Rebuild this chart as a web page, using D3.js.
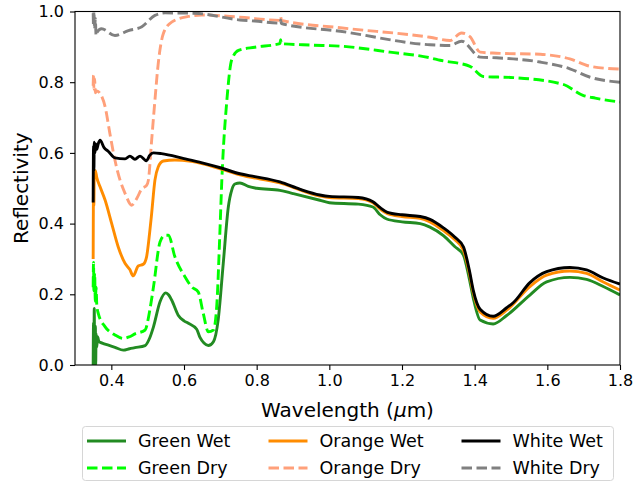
<!DOCTYPE html>
<html>
<head>
<meta charset="utf-8">
<script src="https://cdn.jsdelivr.net/npm/d3@7"></script>
<style>
  body { margin: 0; background: #fff; }
  text { font-family: "DejaVu Sans", sans-serif; fill: #000; }
</style>
</head>
<body>
<script>
// spectra, [wavelength um, reflectivity]
const greenWet = [[0.350,0.0],[0.351,0.12],[0.352,0.01],[0.353,0.16],[0.354,0.03],[0.356,0.11],[0.357,0.0],[0.358,0.09],[0.360,0.05],[0.362,0.08],[0.366,0.066],[0.375,0.062],[0.392,0.056],[0.41,0.050],[0.433,0.042],[0.45,0.046],[0.465,0.049],[0.493,0.055],[0.505,0.075],[0.516,0.108],[0.534,0.179],[0.55,0.204],[0.558,0.198],[0.566,0.184],[0.584,0.141],[0.60,0.125],[0.612,0.118],[0.635,0.101],[0.644,0.078],[0.655,0.062],[0.667,0.055],[0.681,0.066],[0.694,0.127],[0.708,0.287],[0.722,0.447],[0.732,0.497],[0.74,0.512],[0.754,0.515],[0.777,0.505],[0.8,0.500],[0.864,0.494],[0.9,0.485],[0.974,0.466],[1.0,0.459],[1.08,0.455],[1.12,0.447],[1.14,0.425],[1.158,0.413],[1.2,0.405],[1.25,0.400],[1.277,0.390],[1.314,0.366],[1.345,0.335],[1.369,0.311],[1.385,0.245],[1.396,0.19],[1.415,0.127],[1.451,0.116],[1.488,0.140],[1.552,0.198],[1.598,0.235],[1.662,0.248],[1.708,0.242],[1.754,0.222],[1.8,0.198]];
const greenDry = [[0.350,0.22],[0.351,0.29],[0.352,0.21],[0.354,0.26],[0.356,0.18],[0.358,0.22],[0.360,0.17],[0.364,0.146],[0.383,0.108],[0.41,0.085],[0.433,0.075],[0.45,0.08],[0.465,0.088],[0.493,0.099],[0.505,0.15],[0.516,0.221],[0.534,0.348],[0.547,0.367],[0.557,0.367],[0.575,0.306],[0.603,0.249],[0.621,0.221],[0.639,0.207],[0.653,0.146],[0.667,0.094],[0.681,0.099],[0.69,0.165],[0.699,0.381],[0.704,0.52],[0.718,0.749],[0.731,0.862],[0.75,0.89],[0.795,0.899],[0.864,0.909],[0.866,0.92],[0.868,0.909],[0.95,0.905],[1.03,0.902],[1.167,0.885],[1.277,0.869],[1.305,0.862],[1.387,0.845],[1.424,0.816],[1.506,0.813],[1.643,0.794],[1.698,0.763],[1.732,0.755],[1.8,0.744]];
const orangeWet = [[0.350,0.30],[0.351,0.50],[0.352,0.45],[0.353,0.54],[0.356,0.55],[0.360,0.53],[0.369,0.504],[0.383,0.466],[0.401,0.40],[0.419,0.334],[0.438,0.287],[0.451,0.270],[0.46,0.252],[0.474,0.280],[0.488,0.285],[0.497,0.306],[0.505,0.37],[0.511,0.429],[0.52,0.523],[0.529,0.56],[0.543,0.577],[0.575,0.580],[0.62,0.576],[0.7,0.555],[0.754,0.538],[0.864,0.515],[0.974,0.478],[1.0,0.474],[1.08,0.471],[1.12,0.459],[1.14,0.441],[1.16,0.428],[1.2,0.420],[1.25,0.415],[1.277,0.405],[1.314,0.380],[1.345,0.355],[1.369,0.325],[1.385,0.262],[1.396,0.205],[1.415,0.15],[1.451,0.132],[1.488,0.155],[1.552,0.222],[1.598,0.254],[1.662,0.266],[1.708,0.259],[1.754,0.235],[1.8,0.212]];
const orangeDry = [[0.350,0.79],[0.351,0.82],[0.352,0.78],[0.354,0.81],[0.356,0.77],[0.360,0.775],[0.369,0.768],[0.383,0.73],[0.396,0.655],[0.41,0.579],[0.424,0.523],[0.438,0.485],[0.456,0.452],[0.47,0.471],[0.484,0.499],[0.497,0.508],[0.502,0.523],[0.511,0.636],[0.52,0.749],[0.529,0.852],[0.543,0.937],[0.566,0.970],[0.612,0.986],[0.649,0.990],[0.754,0.984],[0.864,0.975],[0.866,0.985],[0.868,0.975],[1.03,0.954],[1.277,0.927],[1.332,0.918],[1.364,0.939],[1.387,0.929],[1.415,0.885],[1.46,0.882],[1.58,0.879],[1.662,0.866],[1.718,0.845],[1.8,0.837]];
const whiteWet = [[0.350,0.46],[0.351,0.62],[0.352,0.55],[0.353,0.63],[0.355,0.60],[0.357,0.625],[0.360,0.61],[0.364,0.626],[0.369,0.636],[0.38,0.615],[0.392,0.604],[0.41,0.586],[0.438,0.583],[0.451,0.591],[0.465,0.582],[0.479,0.591],[0.497,0.578],[0.505,0.592],[0.516,0.600],[0.538,0.598],[0.6,0.584],[0.65,0.572],[0.7,0.558],[0.754,0.541],[0.795,0.533],[0.864,0.518],[0.92,0.497],[0.974,0.481],[1.0,0.477],[1.08,0.474],[1.12,0.462],[1.14,0.445],[1.16,0.432],[1.2,0.425],[1.25,0.420],[1.277,0.412],[1.314,0.388],[1.345,0.362],[1.369,0.334],[1.385,0.27],[1.396,0.212],[1.415,0.158],[1.451,0.138],[1.488,0.162],[1.506,0.176],[1.552,0.233],[1.598,0.264],[1.662,0.276],[1.708,0.269],[1.754,0.246],[1.8,0.229]];
const whiteDry = [[0.350,0.995],[0.351,0.96],[0.352,1.0],[0.354,0.95],[0.356,0.98],[0.358,0.932],[0.360,0.94],[0.373,0.951],[0.41,0.932],[0.447,0.946],[0.484,0.957],[0.52,0.989],[0.548,0.996],[0.63,0.995],[0.754,0.976],[0.795,0.973],[0.864,0.967],[0.866,0.976],[0.868,0.966],[1.03,0.944],[1.277,0.906],[1.332,0.904],[1.364,0.916],[1.415,0.871],[1.46,0.869],[1.58,0.857],[1.662,0.838],[1.718,0.814],[1.8,0.80]];

const seriesNames = ["Green Wet", "Green Dry", "Orange Wet", "Orange Dry", "White Wet", "White Dry"];
const seriesData = [greenWet, greenDry, orangeWet, orangeDry, whiteWet, whiteDry];
const seriesColors = ["#228b22", "#00ff00", "#ff8c00", "#ffa07a", "#000000", "#808080"];
const seriesDashed = [false, true, false, true, false, true];

const xTicks = [0.4, 0.6, 0.8, 1.0, 1.2, 1.4, 1.6, 1.8];
const yTicks = [0.0, 0.2, 0.4, 0.6, 0.8, 1.0];

const W = 644, H = 483;
const pL = 75, pR = 620, pT = 11.5, pB = 365;

const svg = d3.select("body").append("svg")
  .attr("width", W)
  .attr("height", H);

const x = d3.scaleLinear().domain([0.3, 1.8]).range([pL, pR]);
const y = d3.scaleLinear().domain([0, 1]).range([pB, pT]);

svg.append("clipPath").attr("id", "plotclip")
  .append("rect")
  .attr("x", pL).attr("y", pT)
  .attr("width", pR - pL).attr("height", pB - pT);

const line = d3.line()
  .x(d => x(d[0]))
  .y(d => y(d[1]))
  .curve(d3.curveMonotoneX);

const plot = svg.append("g").attr("clip-path", "url(#plotclip)");

seriesData.forEach((data, i) => {
  plot.append("path")
    .datum(data)
    .attr("d", line)
    .attr("fill", "none")
    .attr("stroke", seriesColors[i])
    .attr("stroke-width", 2.9)
    .attr("stroke-linejoin", "round")
    .attr("stroke-dasharray", seriesDashed[i] ? "10.5,4.5" : null);
});

// axes
const xAxis = d3.axisBottom(x).tickValues(xTicks).tickFormat(d3.format(".1f")).tickSize(5).tickPadding(5);
const yAxis = d3.axisLeft(y).tickValues(yTicks).tickFormat(d3.format(".1f")).tickSize(5).tickPadding(6);

const gx = svg.append("g").attr("transform", "translate(0," + pB + ")").call(xAxis);
const gy = svg.append("g").attr("transform", "translate(" + pL + ",0)").call(yAxis);
[gx, gy].forEach(g => {
  g.select(".domain").remove();
  g.selectAll(".tick line").attr("stroke", "#000").attr("stroke-width", 1.1);
  g.selectAll(".tick text")
    .style("font-family", "DejaVu Sans, sans-serif")
    .style("font-size", "16px")
    .attr("fill", "#000");
});

svg.append("rect")
  .attr("x", pL).attr("y", pT)
  .attr("width", pR - pL).attr("height", pB - pT)
  .attr("fill", "none")
  .attr("stroke", "#000")
  .attr("stroke-width", 1.1);

const xLabel = svg.append("text")
  .attr("x", (pL + pR) / 2)
  .attr("y", 417)
  .attr("text-anchor", "middle")
  .style("font-size", "20px");
xLabel.append("tspan").text("Wavelength (");
xLabel.append("tspan").style("font-style", "italic").text("μ");
xLabel.append("tspan").text("m)");

svg.append("text")
  .attr("transform", "translate(28," + (pT + pB) / 2 + ") rotate(-90)")
  .attr("text-anchor", "middle")
  .style("font-size", "20px")
  .text("Reflectivity");

// legend, 3 columns filled top to bottom
const legend = svg.append("g");
legend.append("rect")
  .attr("x", 82.5).attr("y", 426.5)
  .attr("width", 531).attr("height", 54)
  .attr("rx", 3)
  .attr("fill", "#fff")
  .attr("stroke", "#d6d6d6")
  .attr("stroke-width", 1);

const colX = [87, 268.5, 461.5];
const rowY = [441, 468];
seriesNames.forEach((name, i) => {
  const cx = colX[Math.floor(i / 2)];
  const cy = rowY[i % 2];
  legend.append("line")
    .attr("x1", cx).attr("x2", cx + 39)
    .attr("y1", cy).attr("y2", cy)
    .attr("stroke", seriesColors[i])
    .attr("stroke-width", 2.9)
    .attr("stroke-dasharray", seriesDashed[i] ? "10.5,4.5" : null);
  legend.append("text")
    .attr("x", cx + 51)
    .attr("y", cy + 6.3)
    .style("font-size", "17.5px")
    .text(name);
});
</script>
</body>
</html>
